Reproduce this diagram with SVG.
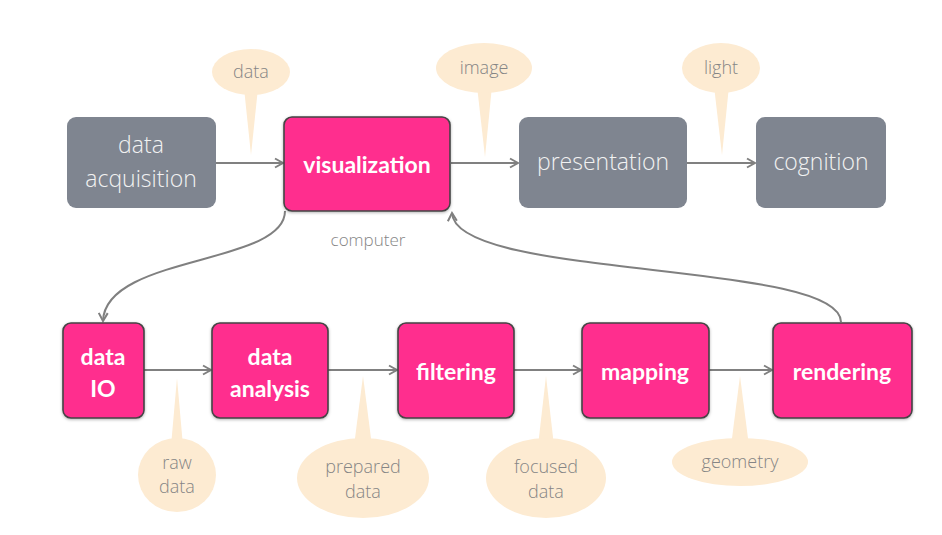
<svg xmlns="http://www.w3.org/2000/svg" width="942" height="535" viewBox="0 0 942 535">
<defs>
<style>
.gray{fill:#7f8590}
.pink{fill:#ff2d8e;stroke:#444;stroke-width:1.6;filter:url(#sh)}
.gt{font-family:"Open Sans","Lato",sans-serif;font-weight:300;font-size:23px;fill:#f2f2f2;text-anchor:middle}
.pt{font-family:"Lato","Open Sans",sans-serif;font-weight:700;font-size:23px;fill:#ffffff;text-anchor:middle}
.bub{fill:#fdebd2}
.bt{font-family:"Open Sans","Lato",sans-serif;font-weight:300;font-size:18px;fill:#858585;text-anchor:middle}
.con{fill:none;stroke:#808080;stroke-width:2}
</style>
<filter id="sh" x="-10%" y="-10%" width="120%" height="120%">
<feDropShadow dx="0" dy="1" stdDeviation="1.5" flood-color="#000" flood-opacity="0.3"/>
</filter>
<marker id="ar" markerWidth="12" markerHeight="12" refX="10" refY="6" orient="auto" markerUnits="userSpaceOnUse">
<path d="M2,1.5 L10,6 L2,10.5" fill="none" stroke="#808080" stroke-width="2"/>
</marker>
</defs>

<g id="connectors">
<path class="con" d="M216 163 H283" marker-end="url(#ar)"/>
<path class="con" d="M451 163 H518" marker-end="url(#ar)"/>
<path class="con" d="M687 163 H755" marker-end="url(#ar)"/>
<path class="con" d="M144 370 H211" marker-end="url(#ar)"/>
<path class="con" d="M328 370 H397" marker-end="url(#ar)"/>
<path class="con" d="M514 370 H581" marker-end="url(#ar)"/>
<path class="con" d="M709 370 H772" marker-end="url(#ar)"/>
<path class="con" d="M285 211 C285 265 105 255 103 321" marker-end="url(#ar)"/>
<path class="con" d="M841 322 C841 260 455 280 452 213" marker-end="url(#ar)"/>
</g>

<g id="callout-data">
<polygon class="bub" points="244,88 258,88 251,155"/>
<ellipse class="bub" cx="251" cy="72" rx="39" ry="23"/>
<text class="bt" x="251" y="78">data</text>
</g>
<g id="callout-image">
<polygon class="bub" points="477,86 492,86 485,157"/>
<ellipse class="bub" cx="484" cy="68" rx="48" ry="25"/>
<text class="bt" x="484" y="74">image</text>
</g>
<g id="callout-light">
<polygon class="bub" points="714,86 729,86 722,155"/>
<ellipse class="bub" cx="721" cy="68" rx="39" ry="25"/>
<text class="bt" x="721" y="74">light</text>
</g>
<g id="callout-raw">
<polygon class="bub" points="171,446 183,446 177,378"/>
<ellipse class="bub" cx="177" cy="475" rx="39" ry="37"/>
<text class="bt" x="177" y="469">raw</text>
<text class="bt" x="177" y="493">data</text>
</g>
<g id="callout-prepared">
<polygon class="bub" points="354,446 372,446 363,376"/>
<ellipse class="bub" cx="363" cy="478" rx="66" ry="40"/>
<text class="bt" x="363" y="473">prepared</text>
<text class="bt" x="363" y="498">data</text>
</g>
<g id="callout-focused">
<polygon class="bub" points="538,446 554,446 546,376"/>
<ellipse class="bub" cx="546" cy="478" rx="60" ry="40"/>
<text class="bt" x="546" y="473">focused</text>
<text class="bt" x="546" y="498">data</text>
</g>
<g id="callout-geometry">
<polygon class="bub" points="731,446 749,446 740,376"/>
<ellipse class="bub" cx="740" cy="462" rx="68" ry="24"/>
<text class="bt" x="740" y="468">geometry</text>
</g>

<g id="label-computer">
<text class="bt" x="368" y="246" style="font-size:17px">computer</text>
</g>

<g id="node-data-acquisition">
<rect class="gray" x="67" y="117" width="149" height="91" rx="9"/>
<text class="gt" x="141" y="153">data</text>
<text class="gt" x="141" y="187">acquisition</text>
</g>
<g id="node-visualization">
<rect class="pink" x="284" y="117" width="166" height="94" rx="8"/>
<text class="pt" x="367" y="173">visualization</text>
</g>
<g id="node-presentation">
<rect class="gray" x="519" y="117" width="168" height="91" rx="9"/>
<text class="gt" x="603" y="170">presentation</text>
</g>
<g id="node-cognition">
<rect class="gray" x="756" y="117" width="130" height="91" rx="9"/>
<text class="gt" x="821" y="170">cognition</text>
</g>

<g id="node-data-io">
<rect class="pink" x="63" y="323" width="81" height="95" rx="8"/>
<text class="pt" x="103" y="365">data</text>
<text class="pt" x="103" y="397">IO</text>
</g>
<g id="node-data-analysis">
<rect class="pink" x="212" y="323" width="116" height="95" rx="8"/>
<text class="pt" x="270" y="365">data</text>
<text class="pt" x="270" y="397">analysis</text>
</g>
<g id="node-filtering">
<rect class="pink" x="398" y="323" width="116" height="95" rx="8"/>
<text class="pt" x="456" y="380">filtering</text>
</g>
<g id="node-mapping">
<rect class="pink" x="582" y="323" width="127" height="95" rx="8"/>
<text class="pt" x="645" y="380">mapping</text>
</g>
<g id="node-rendering">
<rect class="pink" x="773" y="323" width="139" height="95" rx="8"/>
<text class="pt" x="842" y="380">rendering</text>
</g>
</svg>
